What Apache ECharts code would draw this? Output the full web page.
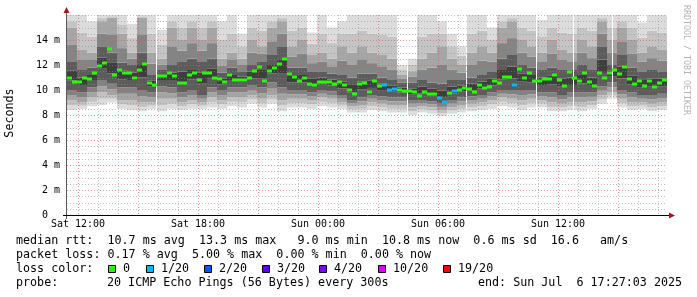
<!DOCTYPE html>
<html><head><meta charset="utf-8">
<script src="https://cdn.jsdelivr.net/npm/echarts@6/dist/echarts.min.js"></script>
<style>html,body{margin:0;padding:0;background:#fff}#c{width:697px;height:297px}</style>
</head><body><div id="c"></div>
<script>
// ---- time frame (hours counted from Sat 00:00) ----
const T0 = 11 + 27/60 + 3/3600;   // Sat 11:27:03
const SPAN = 30;                  // 30 hours shown
const MEDIAN_STEP = 0.25;         // 15 min per median sample
const SMOKE_STEP = 0.5;           // 30 min per smoke column

// ---- median rtt (ms), one value per 15 min ----
const medianMs = [
 10.93,10.67,10.67,10.93,10.85,11.33,11.9,12.2,13.3,11.2,
 11.6,11.4,11.4,11.0,11.6,12.1,10.6,10.4,11.1,11.1,
 11.4,11.1,10.6,10.6,11.2,11.4,10.8,11.35,11.35,11.0,
 10.9,10.67,11.2,10.8,10.8,10.8,11.0,11.5,11.87,10.7,
 11.5,11.73,12.1,12.5,11.3,11.07,10.7,11.0,10.5,10.4,
 10.67,10.67,10.67,10.45,10.67,10.4,10.0,9.7,10.5,10.6,
 9.8,10.75,10.3,10.4,10.0,10.1,10.0,9.95,9.95,9.87,
 9.5,9.87,9.7,9.65,9.35,9.05,9.75,9.95,10.0,10.2,
 10.1,9.87,10.4,10.13,10.27,10.7,10.53,11.07,11.07,10.4,
 11.7,11.0,11.33,10.73,10.73,10.85,10.87,11.2,10.8,10.3,
 11.47,10.93,10.73,11.33,10.67,10.3,11.33,10.93,11.4,11.6,
 11.27,11.87,10.9,10.5,10.73,10.3,10.73,10.27,10.53,10.8
];
// lost pings out of 20, per median sample
const lossCount = [
 0,0,0,0,0,0,0,0,0,0, 0,0,0,0,0,0,0,0,0,0,
 0,0,0,0,0,0,0,0,0,0, 0,0,0,0,0,0,0,0,0,0,
 0,0,0,0,0,0,0,0,0,0, 0,0,0,0,0,0,0,0,0,0,
 0,0,0,1,1,1,0,0,0,0, 0,0,0,0,1,1,0,1,0,0,
 0,0,0,0,0,0,0,0,0,1, 0,0,0,0,0,0,0,0,0,0,
 0,0,0,0,0,0,0,0,0,0, 0,0,0,0,0,0,0,0,0,0
];

// ---- smoke (ping spread, ms), one value per 30 min ----
const smokeHi  = [16,16,15.5,16,16,16,15.3,16,16,14.8, 16,16,16,16,16,15.5,16,14.5,16,16,
                  16,16,16,16,14.6,16,15,15.5,16,16, 16,16,16,12,12.5,16,16,15.5,14.5,13.5,
                  16,16,15,16,16,16,16,15.6,16,16, 16,16,16,16,16,16,16,15.4,16,16];
const smokeUp2 = [15,13.2,13,15.5,15.8,14.5,13,15.8,13,12.5, 15,14,15,14,15,12.5,13,12.5,14,13.5,
                  15,15.5,13.5,14,12.8,13,12.5,13.5,13,13.5, 13,12.8,12.5,11.2,11.5,12.5,13,13.5,12.5,12,
                  13,13.5,13,15,15.5,14,13.5,13,14,13.2, 13,14,13.5,15.5,14,15,14,13,13.5,13.2];
const smokeUp1 = [12.3,11.6,11.8,13.5,13,12.2,12,13,11.2,11.6, 12,12.3,12.5,12.3,12.5,11.4,11.8,11.5,12,12.3,
                  12.8,13.5,11.8,11.8,11.5,11.5,11.3,11.2,11,11.3, 11.3,11,10.8,10.6,10.6,10.8,10.6,10.5,10.8,10.8,
                  11,11.2,11.5,12.5,12.8,12,11.8,11.6,11.8,11.6, 11.6,12,11.6,13.5,12,12.8,11.8,11.5,11.6,11.5];
const smokeDn1 = [10,9.8,10.2,10.8,10.5,10.2,10.2,10,9.8,10.3, 10.2,9.8,10,9.6,10.2,10,10.2,10.2,10.4,10.2,
                  10.6,10.2,10,10,9.8,10,9.9,9.6,9.2,9.4, 9.6,9.5,9.4,9.4,9.2,9.2,9.1,8.9,9.2,9.4,
                  9.5,9.6,9.8,10,10,10,10,9.8,9.8,9.6, 9.8,9.8,9.8,10.3,10.6,10,9.8,9.6,9.6,9.7];
const smokeDn2 = [9.2,9,9.4,9.8,9.6,9.2,9.2,9,9,9.3, 9.3,9,9.2,9,9.4,9.2,9.4,9.4,9.6,9.3,
                  9.6,9.2,9.3,9.3,9.2,9.4,9.3,9,8.7,8.8, 9,8.9,8.8,8.8,8.6,8.7,8.6,8.4,8.6,8.8,
                  8.9,9,9.2,9.4,9.3,9.2,9.3,9.2,9,8.9, 9,9,9.1,9.6,9.8,9.3,9,9,8.9,9];
const smokeLo  = [8.4,8.5,8.7,8.8,9,8.5,8.4,8.3,8.5,8.3, 8.5,8.4,8.5,8.5,8.6,8.5,8.7,8.6,8.9,8.6,
                  8.9,8.3,8.6,8.6,8.5,8.7,8.6,8.5,8.2,8.2, 8.4,8.3,8.2,8.2,8,8.2,8.1,7.9,8.1,8.2,
                  8.3,8.4,8.5,8.7,8.6,8.4,8.6,8.6,8.3,8.3, 8.4,8.3,8.5,8.9,9.3,8.6,8.4,8.5,8.3,8.4];
// missing-data instants (hours)
const gapHours = [15.9, 28.45, 31.4, 34.9, 36.75, 38.7];

// ---- axes ----
const xTickHours  = [12, 18, 24, 30, 36];
const xTickLabels = ['Sat 12:00', 'Sat 18:00', 'Sun 00:00', 'Sun 06:00', 'Sun 12:00'];
const yMax = 16;

// ---- loss colours ----
const lossLevels = [0, 1, 2, 3, 4, 10, 19];
const lossLabels = ['0', '1/20', '2/20', '3/20', '4/20', '10/20', '19/20'];
const lossColors = ['#26ff00', '#00b8ff', '#0059ff', '#5e00ff', '#7e00ff', '#dd00ff', '#ff0000'];

// ---- legend texts ----
const statLine1 = 'median rtt:  10.7 ms avg  13.3 ms max   9.0 ms min  10.8 ms now  0.6 ms sd  16.6   am/s';
const statLine2 = 'packet loss: 0.17 % avg  5.00 % max  0.00 % min  0.00 % now';
const probeText = '20 ICMP Echo Pings (56 Bytes) every 300s';
const endText   = 'end: Sun Jul  6 17:27:03 2025';

// ================= build =================
const GRID = {left: 67, right: 30, top: 15, bottom: 82};
const MONO = '"DejaVu Sans Mono", monospace';

function lossColor(n) {
  let c = lossColors[0];
  for (let i = 0; i < lossLevels.length; i++) if (n >= lossLevels[i]) c = lossColors[i];
  return c;
}

const smokeData = smokeHi.map((h, k) => [T0 + k * SMOKE_STEP, smokeLo[k], smokeDn2[k], smokeDn1[k], smokeUp1[k], smokeUp2[k], h]);
const medianData = medianMs.map((m, i) => [T0 + i * MEDIAN_STEP, m, lossCount[i]]);

const vGrid = [];
for (let h = 12; h <= T0 + SPAN; h++) vGrid.push([h, 0]);
const hGrid = [];
for (let v = 0.5; v <= yMax; v += 0.5) hGrid.push([T0, v]);

function renderSmoke(params, api) {
  const t = api.value(0);
  const x0 = Math.round(api.coord([t, 0])[0]);
  const x1 = Math.round(api.coord([t + SMOKE_STEP, 0])[0]);
  const lo = api.value(1), d2 = api.value(2), d1 = api.value(3), u1 = api.value(4), u2 = api.value(5), hi = api.value(6);
  const Y = v => api.coord([t, Math.min(v, yMax)])[1];
  const a = d1 + (u1 - d1) / 3, b = d1 + 2 * (u1 - d1) / 3;
  const bands = [
    [lo, (lo + d2) / 2, '#dcdcdc'], [(lo + d2) / 2, d2, '#c2c2c2'],
    [d2, (d2 + d1) / 2, '#a4a4a4'], [(d2 + d1) / 2, d1, '#828282'],
    [d1, a, '#5c5c5c'], [a, b, '#3e3e3e'], [b, u1, '#5c5c5c'],
    [u1, (u1 + u2) / 2, '#848484'], [(u1 + u2) / 2, u2, '#a6a6a6'],
    [u2, (u2 + hi) / 2, '#c4c4c4'], [(u2 + hi) / 2, hi, '#dcdcdc']
  ];
  return {
    type: 'group',
    children: bands.filter(bd => bd[1] > bd[0]).map(bd => {
      const yTop = Y(bd[1]), yBot = Y(bd[0]);
      return {type: 'rect', shape: {x: x0, y: yTop, width: x1 - x0, height: yBot - yTop}, style: {fill: bd[2]}};
    })
  };
}

function renderGap(params, api) {
  const x = Math.round(api.coord([api.value(0), 0])[0]);
  const cs = params.coordSys;
  return {type: 'rect', shape: {x: x, y: cs.y, width: 1, height: cs.height}, style: {fill: '#ffffff'}};
}

function renderMedian(params, api) {
  const t = api.value(0);
  const p0 = api.coord([t, api.value(1)]);
  const x1 = api.coord([t + MEDIAN_STEP, 0])[0];
  return {type: 'rect', shape: {x: Math.round(p0[0]), y: Math.round(p0[1]) - 1.5, width: Math.round(x1) - Math.round(p0[0]), height: 3},
          style: {fill: lossColor(api.value(2))}};
}

function renderVGrid(params, api) {
  const h = api.value(0);
  const x = Math.round(api.coord([h, 0])[0]) + 0.5;
  const cs = params.coordSys;
  const major = (h % 3 === 0);
  return {type: 'line', shape: {x1: x, y1: cs.y, x2: x, y2: cs.y + cs.height},
          style: {stroke: major ? 'rgba(230,80,80,0.6)' : 'rgba(140,140,140,0.55)', lineWidth: 1, lineDash: [1, 2]}};
}
function renderHGrid(params, api) {
  const v = api.value(1);
  const y = Math.round(api.coord([T0, v])[1]) + 0.5;
  const cs = params.coordSys;
  const major = (v % 2 === 0) && v < yMax;
  return {type: 'line', shape: {x1: cs.x, y1: y, x2: cs.x + cs.width, y2: y},
          style: {stroke: major ? 'rgba(230,80,80,0.6)' : 'rgba(140,140,140,0.55)', lineWidth: 1, lineDash: [1, 2]}};
}

// legend graphics
const graphics = [];
const txt = (x, y, s, extra) => Object.assign({type: 'text', x: x, y: y, z: 100,
  style: {text: s, font: '11.7px ' + MONO, fill: '#000', align: 'left', verticalAlign: 'middle'}}, extra || {});
graphics.push(txt(16, 241, statLine1));
graphics.push(txt(16, 255, statLine2));
graphics.push(txt(16, 269, 'loss color:'));
const boxX = [108, 146, 204, 262, 319, 378, 443];
lossLabels.forEach((lab, i) => {
  graphics.push({type: 'rect', z: 100, shape: {x: boxX[i] + 0.5, y: 265.5, width: 7, height: 7},
                 style: {fill: lossColors[i], stroke: '#000', lineWidth: 1}});
  graphics.push(txt(boxX[i] + 15, 269, lab));
});
graphics.push(txt(16, 283, 'probe:'));
graphics.push(txt(107, 283, probeText));
graphics.push(txt(478, 283, endText));
graphics.push({type: 'text', x: 10, y: 113, rotation: Math.PI / 2, z: 100,
  style: {text: 'Seconds', font: '11.7px ' + MONO, fill: '#000', align: 'center', verticalAlign: 'middle'}});
graphics.push({type: 'text', x: 686, y: 5, rotation: -Math.PI / 2, z: 100,
  style: {text: 'RRDTOOL / TOBI OETIKER', font: '8.3px ' + MONO, fill: '#b4b4b4', align: 'left', verticalAlign: 'middle'}});
// axis lines and arrows
const plotL = GRID.left, plotB = 297 - GRID.bottom, plotR = 697 - GRID.right;
graphics.push({type: 'line', z: 90, shape: {x1: plotL - 0.5, y1: plotB + 4, x2: plotL - 0.5, y2: GRID.top - 6}, style: {stroke: '#5a5a5a', lineWidth: 1}});
graphics.push({type: 'line', z: 90, shape: {x1: plotL - 4, y1: plotB + 0.5, x2: plotR + 5, y2: plotB + 0.5}, style: {stroke: '#000', lineWidth: 1}});
graphics.push({type: 'polygon', z: 91, shape: {points: [[plotL - 3.5, GRID.top - 2], [plotL + 2.5, GRID.top - 2], [plotL - 0.5, GRID.top - 8]]}, style: {fill: '#9a1c1c'}});
graphics.push({type: 'polygon', z: 91, shape: {points: [[plotR + 2, plotB - 2.5], [plotR + 2, plotB + 3.5], [plotR + 8, plotB + 0.5]]}, style: {fill: '#9a1c1c'}});

const chart = echarts.init(document.getElementById('c'), null, {renderer: 'canvas'});
chart.setOption({
  animation: false,
  backgroundColor: '#ffffff',
  grid: GRID,
  xAxis: {
    type: 'value', min: T0, max: T0 + SPAN,
    axisLine: {show: false}, axisTick: {show: false}, splitLine: {show: false},
    axisLabel: {customValues: xTickHours, margin: 4, fontFamily: 'DejaVu Sans Mono', fontSize: 10, color: '#000',
      formatter: v => { const i = xTickHours.indexOf(Math.round(v)); return i >= 0 ? xTickLabels[i] : ''; }}
  },
  yAxis: {
    type: 'value', min: 0, max: yMax, interval: 2,
    axisLine: {show: false}, axisTick: {show: false}, splitLine: {show: false},
    axisLabel: {margin: 7, fontFamily: 'DejaVu Sans Mono', fontSize: 10, color: '#000',
      formatter: v => v === 0 ? '0  ' : (v >= yMax ? '' : v + ' m')}
  },
  series: [
    {type: 'custom', name: 'smoke', renderItem: renderSmoke, data: smokeData, z: 1, clip: true, silent: true},
    {type: 'custom', name: 'gaps', renderItem: renderGap, data: gapHours.map(h => [h, 0]), z: 2, clip: true, silent: true},
    {type: 'custom', name: 'vgrid', renderItem: renderVGrid, data: vGrid, z: 3, silent: true},
    {type: 'custom', name: 'hgrid', renderItem: renderHGrid, data: hGrid, z: 3, silent: true},
    {type: 'custom', name: 'median', renderItem: renderMedian, data: medianData, z: 4, clip: true, silent: true}
  ],
  graphic: graphics
});
</script></body></html>
